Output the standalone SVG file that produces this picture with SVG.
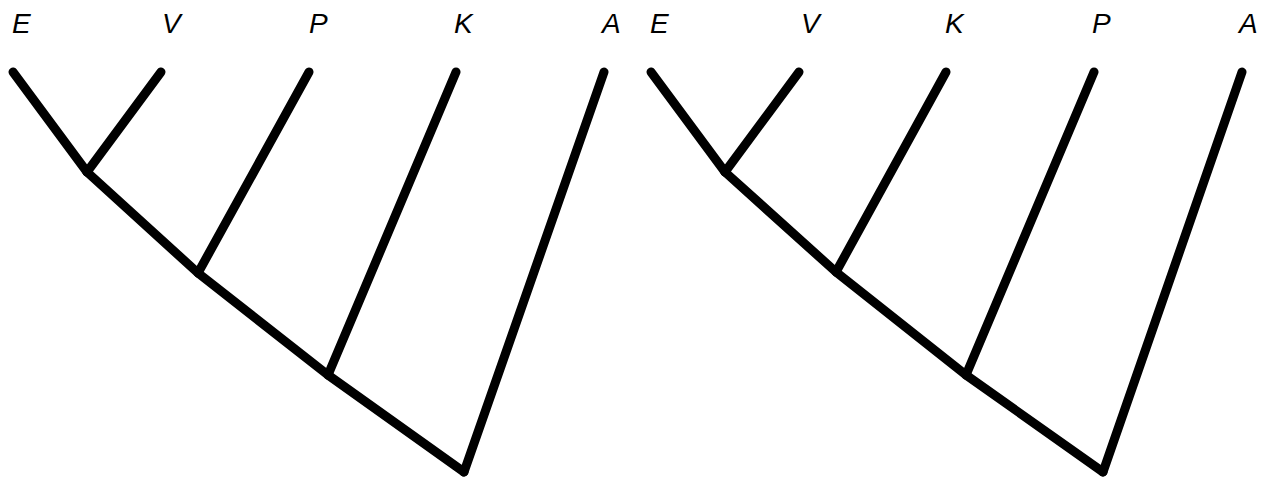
<svg xmlns="http://www.w3.org/2000/svg" width="1266" height="481" viewBox="0 0 1266 481">
<style>
.lbl{font-family:"Liberation Sans",Arial,sans-serif;font-style:italic;font-size:28px;fill:#000}
.e{stroke:#000;stroke-width:9;stroke-linecap:round;stroke-linejoin:round;fill:none}
</style>
<rect width="1266" height="481" fill="#fff"/>
<g id="connectors">
<g id="tree1-edges">
<line class="e" x1="13" y1="72" x2="87" y2="172"/>
<line class="e" x1="161" y1="72" x2="87" y2="172"/>
<line class="e" x1="309" y1="72" x2="198" y2="273"/>
<line class="e" x1="456" y1="72" x2="328" y2="375"/>
<line class="e" x1="604" y1="72" x2="464" y2="472"/>
<polyline class="e" points="87,172 198,273 328,375 464,472"/>
</g>
<g id="tree2-edges">
<line class="e" x1="651" y1="72" x2="725" y2="172"/>
<line class="e" x1="799" y1="72" x2="725" y2="172"/>
<line class="e" x1="946" y1="72" x2="836" y2="272"/>
<line class="e" x1="1094" y1="72" x2="966" y2="375"/>
<line class="e" x1="1242" y1="72" x2="1103" y2="472"/>
<polyline class="e" points="725,172 836,272 966,375 1103,472"/>
</g>
</g>
<g id="t1-E"><text class="lbl" x="12" y="33">E</text></g>
<g id="t1-V"><text class="lbl" x="162" y="33">V</text></g>
<g id="t1-P"><text class="lbl" x="309" y="33">P</text></g>
<g id="t1-K"><text class="lbl" x="454" y="33">K</text></g>
<g id="t1-A"><text class="lbl" x="602" y="33">A</text></g>
<g id="t2-E"><text class="lbl" x="650" y="33">E</text></g>
<g id="t2-V"><text class="lbl" x="801" y="33">V</text></g>
<g id="t2-K"><text class="lbl" x="945" y="33">K</text></g>
<g id="t2-P"><text class="lbl" x="1092" y="33">P</text></g>
<g id="t2-A"><text class="lbl" x="1239" y="33">A</text></g>
</svg>
